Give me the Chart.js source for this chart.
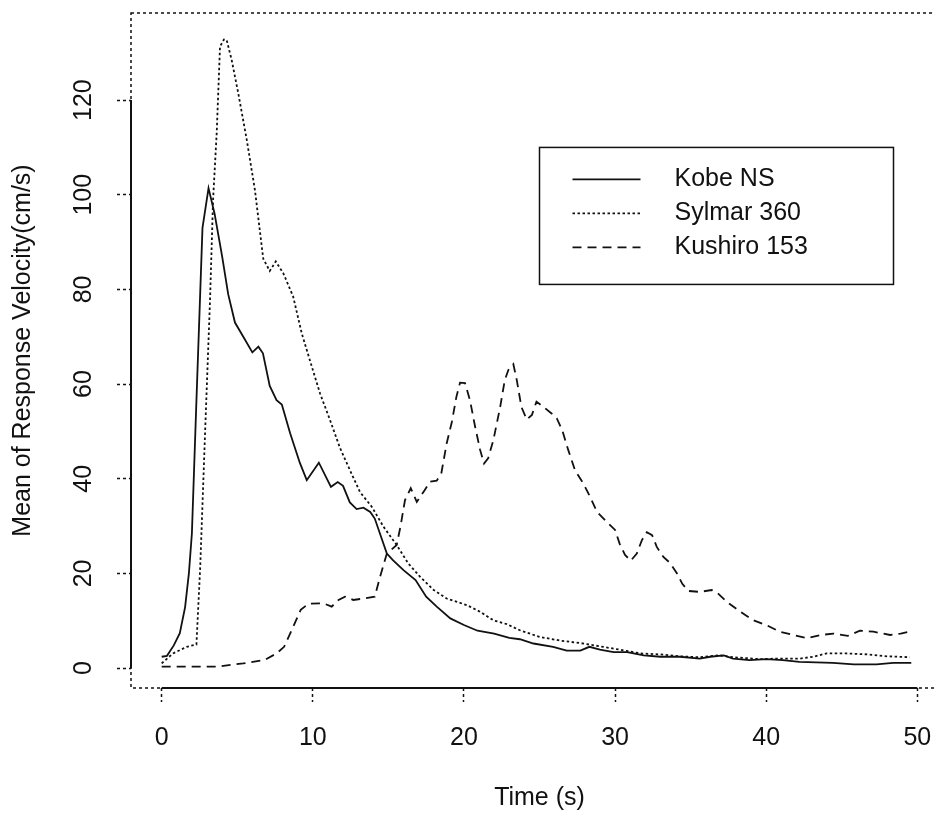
<!DOCTYPE html>
<html>
<head>
<meta charset="utf-8">
<title>Mean of Response Velocity</title>
<script src="https://cdn.jsdelivr.net/npm/chart.js@4.4.1/dist/chart.umd.min.js"></script>
<style>
    html, body { margin: 0; padding: 0; background: #fff; overflow: hidden; }
    #wrap { width: 935px; height: 814px; overflow: hidden; }
    canvas { display: block; }
</style>
</head>
<body>
<div id="wrap"><canvas id="chart" width="970" height="814"></canvas></div>
<script>
// Data (time in s, velocity in cm/s)
const seriesNames = ['Kobe NS', 'Sylmar 360', 'Kushiro 153'];

const kobeTime = [0, 0.35, 0.8, 1.2, 1.55, 1.8, 2.0, 2.3, 2.7, 3.1, 3.5, 4.0, 4.4, 4.85, 5.4, 6.0, 6.4, 6.7, 7.15, 7.6,
    7.95, 8.5, 9.15, 9.6, 10.4, 11.2, 11.65, 12.0, 12.45, 12.9, 13.35, 13.8, 14.1, 14.9, 15.3, 16.0, 16.8, 17.5, 18.2, 19.1,
    20.0, 20.9, 22.0, 23.0, 23.7, 24.6, 25.9, 26.8, 27.7, 28.3, 29.0, 29.9, 30.8, 31.9, 33.0, 34.3, 35.6, 36.3, 37.2, 37.8,
    38.9, 40.0, 41.1, 42.2, 44.4, 45.8, 47.3, 48.4, 49.6];
const kobeVel = [2.4, 2.6, 4.8, 7.4, 12.9, 20, 28.5, 56.6, 93, 101.4, 96, 87, 79, 73, 70, 66.7, 67.9, 66.5, 59.6, 56.6,
    55.7, 49.6, 43.3, 39.7, 43.4, 38.3, 39.3, 38.5, 35, 33.6, 33.9, 33.0, 31.6, 24.2, 22.8, 20.7, 18.6, 15.1, 13.0, 10.5,
    9.1, 7.9, 7.3, 6.4, 6.1, 5.2, 4.5, 3.7, 3.7, 4.5, 3.9, 3.4, 3.4, 2.7, 2.4, 2.4, 2.0, 2.4, 2.7, 2.0,
    1.7, 1.9, 1.7, 1.3, 1.1, 0.8, 0.8, 1.1, 1.1];

const sylmarTime = [0, 0.75, 1.65, 2.3, 2.55, 2.87, 3.2, 3.4, 3.64, 3.86, 4.12, 4.3, 4.63, 5.07, 5.63, 6.17, 6.72, 7.15, 7.55, 8.05,
    8.7, 9.27, 9.8, 10.48, 11.14, 11.8, 12.46, 13.12, 13.9, 14.67, 15.55, 16.32, 17.1, 18.0, 18.86, 20.2, 21.07, 21.95, 22.83, 23.7,
    25.0, 26.4, 27.7, 29.0, 30.3, 31.7, 33.0, 34.3, 35.6, 36.9, 37.8, 39.6, 40.7, 42.2, 43.1, 44.0, 45.3, 46.7, 48.0, 49.5];
const sylmarVel = [1.0, 3.1, 4.5, 5.0, 21.4, 49.6, 77.8, 98.9, 113, 131.3, 132.8, 132.7, 128.5, 121.4, 111.6, 101, 86.5, 83.9, 85.9, 83.4,
    78.5, 70.7, 65.1, 58.0, 52.4, 46.5, 41.8, 37.2, 34.1, 29.9, 26.0, 22.1, 19.3, 16.5, 14.7, 13.3, 11.9, 10.1, 9.3, 8.0,
    6.6, 5.8, 5.3, 4.6, 3.9, 3.1, 2.9, 2.5, 2.3, 2.7, 2.3, 1.9, 2.0, 2.0, 2.4, 3.1, 3.1, 2.9, 2.5, 2.3];

const kushiroTime = [0, 3.6, 5.4, 6.8, 7.6, 8.1, 8.7, 9.2, 9.7, 10.7, 11.25, 11.7, 12.13, 12.68, 13.34, 14.1, 14.45, 14.9, 15.55, 15.8,
    16.1, 16.48, 16.88, 17.4, 17.76, 18.2, 18.5, 18.86, 19.2, 19.5, 19.74, 20.07, 20.4, 20.74, 21.07, 21.33, 21.6, 21.95, 22.4, 22.7,
    22.94, 23.27, 23.5, 23.8, 24.16, 24.5, 24.8, 25.26, 25.8, 26.14, 26.5, 26.9, 27.35, 27.9, 28.35, 28.8, 29.45, 30.0, 30.3, 30.66,
    31.04, 31.44, 31.77, 32.1, 32.45, 32.76, 33.2, 33.64, 34.1, 34.45, 34.85, 35.6, 36.4, 36.8, 37.4, 38.3, 39.15, 40.0, 40.9, 41.8,
    42.7, 43.6, 44.45, 45.4, 46.2, 47.1, 48.2, 48.9, 49.5];
const kushiroVel = [0.3, 0.3, 1.0, 1.7, 3.1, 4.5, 8.7, 12.3, 13.6, 13.7, 13.0, 14.4, 15.1, 14.4, 14.7, 15.1, 19.3, 24.2, 26.0, 29.9,
    35.5, 38.0, 35.1, 37.6, 39.4, 39.6, 41.1, 47.5, 52.0, 57.3, 60.3, 60.2, 56.6, 51.0, 46.1, 43.2, 44.3, 48.2, 55.2, 60.8,
    63.0, 64.2, 60.8, 55.2, 52.5, 53.5, 56.3, 55.2, 53.8, 52.8, 50.3, 46.1, 41.8, 39.0, 36.2, 33.0, 30.9, 29.2, 26.3, 23.9,
    22.7, 24.2, 27.0, 28.7, 28.1, 25.6, 23.5, 22.2, 20.0, 17.8, 16.3, 16.1, 16.5, 15.8, 14.0, 11.9, 10.1, 9.1, 7.7, 7.0,
    6.3, 7.0, 7.3, 6.8, 7.9, 7.7, 7.0, 7.3, 7.7];

const xTicks = [0, 10, 20, 30, 40, 50];
const yTicks = [0, 20, 40, 60, 80, 100, 120];
const legendAt = [25, 110]; // legend corner, in data units

const INK = '#111';
const FONT = '"Liberation Sans", Arial, Helvetica, sans-serif';

Chart.defaults.font.family = FONT;
Chart.defaults.color = INK;

function toPoints(times, values) {
    return times.map((t, i) => ({ x: t, y: values[i] }));
}

// R-style axes: dotted box, solid axis over the tick range, rotated y labels, boxed legend
const rStyle = {
    id: 'rStyle',
    afterDraw(chart) {
        const { ctx, chartArea: a, scales: { x, y } } = chart;
        ctx.save();
        ctx.strokeStyle = INK;
        ctx.fillStyle = INK;

        // dotted box all round the plot region
        ctx.lineWidth = 1.5;
        ctx.setLineDash([3, 3]);
        ctx.strokeRect(a.left, a.top, a.right - a.left, a.bottom - a.top);

        // solid axis lines between the first and last tick
        ctx.setLineDash([]);
        ctx.lineWidth = 2;
        ctx.beginPath();
        ctx.moveTo(x.getPixelForValue(xTicks[0]), a.bottom);
        ctx.lineTo(x.getPixelForValue(xTicks[xTicks.length - 1]), a.bottom);
        ctx.moveTo(a.left, y.getPixelForValue(yTicks[0]));
        ctx.lineTo(a.left, y.getPixelForValue(yTicks[yTicks.length - 1]));
        ctx.stroke();

        ctx.font = '25px ' + FONT;
        ctx.textAlign = 'center';
        ctx.textBaseline = 'middle';
        yTicks.forEach(v => {
            ctx.save();
            ctx.translate(84, y.getPixelForValue(v));
            ctx.rotate(-Math.PI / 2);
            ctx.fillText(String(v), 0, 0);
            ctx.restore();
        });

        // legend
        const lx = x.getPixelForValue(legendAt[0]);
        const ly = y.getPixelForValue(legendAt[1]);
        ctx.lineWidth = 1.5;
        ctx.strokeRect(lx, ly, 354, 137);
        ctx.textAlign = 'left';
        chart.data.datasets.forEach((ds, i) => {
            const rowY = ly + 32 + i * 34;
            ctx.setLineDash(ds.borderDash || []);
            ctx.lineWidth = ds.borderWidth;
            ctx.beginPath();
            ctx.moveTo(lx + 33, rowY);
            ctx.lineTo(lx + 101, rowY);
            ctx.stroke();
            ctx.setLineDash([]);
            ctx.fillText(ds.label, lx + 135, rowY);
        });
        ctx.restore();
    }
};

const lineStyle = { borderColor: INK, borderWidth: 1.8, pointRadius: 0, tension: 0, fill: false };

new Chart(document.getElementById('chart'), {
    type: 'line',
    data: {
        datasets: [
            { ...lineStyle, label: seriesNames[0], data: toPoints(kobeTime, kobeVel) },
            { ...lineStyle, label: seriesNames[1], data: toPoints(sylmarTime, sylmarVel), borderDash: [2.5, 2.5] },
            { ...lineStyle, label: seriesNames[2], data: toPoints(kushiroTime, kushiroVel), borderDash: [9, 6] }
        ]
    },
    options: {
        responsive: false,
        animation: false,
        devicePixelRatio: 1,
        layout: { padding: { top: 13, right: 22, left: 0, bottom: 0 } },
        plugins: { legend: { display: false }, tooltip: { enabled: false } },
        scales: {
            x: {
                type: 'linear',
                position: 'bottom',
                min: -2.03,
                max: 52.03,
                afterFit: scale => { scale.height = 126; },
                ticks: { stepSize: 10, includeBounds: false, padding: 21, font: { size: 25 }, color: INK, maxRotation: 0 },
                grid: { drawOnChartArea: false, drawTicks: true, tickLength: 14, tickColor: INK, tickWidth: 1.5, tickBorderDash: [3, 3] },
                border: { display: false },
                title: { display: true, text: 'Time (s)', font: { size: 25 }, color: INK, padding: { top: 0, bottom: 1 } }
            },
            y: {
                type: 'linear',
                position: 'left',
                min: -4.2,
                max: 138.4,
                afterFit: scale => { scale.width = 131; },
                ticks: { stepSize: 20, includeBounds: false, display: false },
                grid: { drawOnChartArea: false, drawTicks: true, tickLength: 14, tickColor: INK, tickWidth: 1.5, tickBorderDash: [3, 3] },
                border: { display: false },
                title: { display: true, text: 'Mean of Response Velocity(cm/s)', font: { size: 25 }, color: INK, padding: { top: 8, bottom: 0 } }
            }
        }
    },
    plugins: [rStyle]
});
</script>
</body>
</html>
